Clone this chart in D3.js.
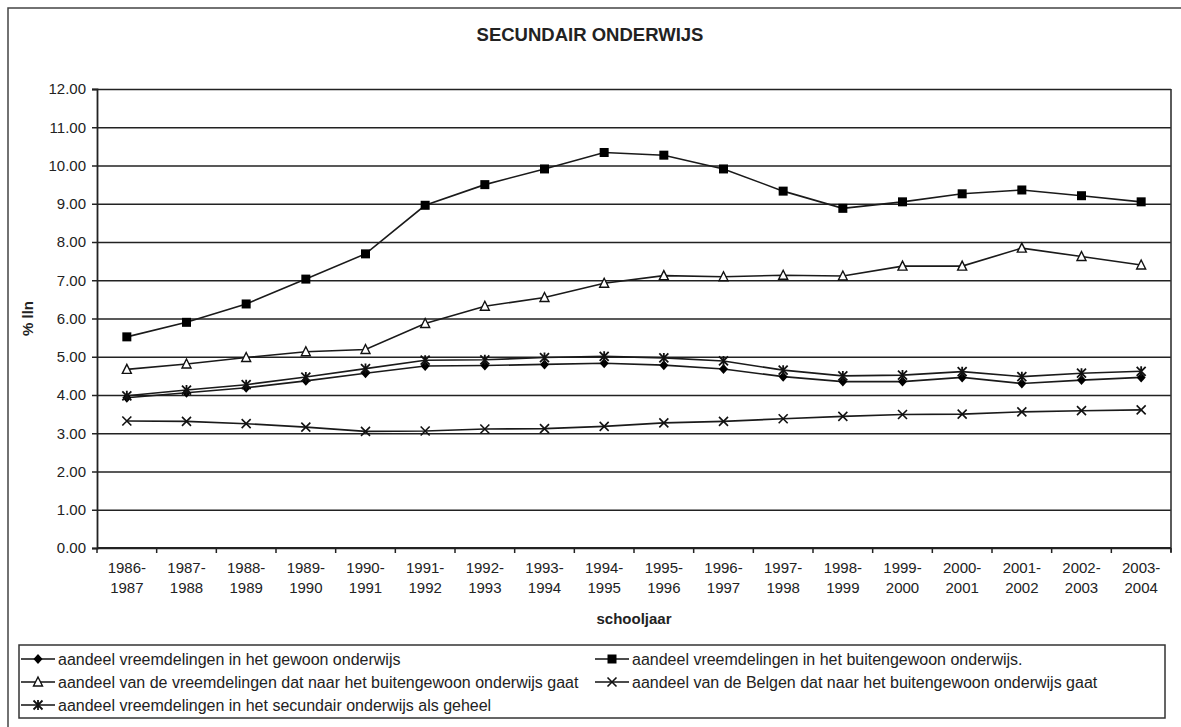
<!DOCTYPE html>
<html><head><meta charset="utf-8">
<script src="https://cdn.jsdelivr.net/npm/d3@7"></script>
<style>
body{margin:0;background:#fff}
text{font-family:"Liberation Sans",Arial,sans-serif;fill:#222}
</style>
</head><body>
<svg id="c" width="1181" height="727"></svg>
<script>
const categories = ["1986-1987","1987-1988","1988-1989","1989-1990","1990-1991","1991-1992","1992-1993","1993-1994","1994-1995","1995-1996","1996-1997","1997-1998","1998-1999","1999-2000","2000-2001","2001-2002","2002-2003","2003-2004"];
const gewoon      = [3.93,4.06,4.19,4.37,4.57,4.76,4.77,4.80,4.83,4.78,4.68,4.48,4.35,4.35,4.46,4.30,4.39,4.46];
const buitengewoon= [5.52,5.90,6.38,7.03,7.69,8.96,9.50,9.91,10.34,10.27,9.91,9.33,8.88,9.05,9.26,9.36,9.21,9.05];
const vreemdNaarBuo=[4.67,4.81,4.98,5.13,5.19,5.87,6.32,6.55,6.92,7.12,7.09,7.13,7.11,7.37,7.37,7.84,7.62,7.40];
const belgenNaarBuo=[3.32,3.31,3.25,3.16,3.05,3.06,3.11,3.12,3.18,3.27,3.31,3.38,3.44,3.49,3.50,3.56,3.59,3.61];
const geheel      = [3.98,4.13,4.27,4.47,4.69,4.91,4.92,4.98,5.01,4.97,4.89,4.65,4.50,4.52,4.61,4.48,4.57,4.62];
const yTicks = [0,1,2,3,4,5,6,7,8,9,10,11,12];

const series = [
  {name:"aandeel vreemdelingen in het gewoon onderwijs", values:gewoon, marker:"diamond", col:0,row:0},
  {name:"aandeel vreemdelingen in het buitengewoon onderwijs.", values:buitengewoon, marker:"square", col:1,row:0},
  {name:"aandeel van de vreemdelingen dat naar het buitengewoon onderwijs gaat", values:vreemdNaarBuo, marker:"triangle", col:0,row:1},
  {name:"aandeel van de Belgen dat naar het buitengewoon onderwijs gaat", values:belgenNaarBuo, marker:"x", col:1,row:1},
  {name:"aandeel vreemdelingen in het secundair onderwijs als geheel", values:geheel, marker:"star", col:0,row:2}
];

const svg = d3.select("#c");
const W=1181,H=727;
const L=97,R=1171,T=89,B=548;
const x = d3.scaleBand().domain(categories).range([L,R]).padding(0);
const y = d3.scaleLinear().domain([0,12]).range([B,T]);
const ink="#222";
const tickFont="15px", legFont="16px";

svg.append("rect").attr("x",8).attr("y",8).attr("width",W).attr("height",H)
  .attr("fill","none").attr("stroke","#444").attr("stroke-width",1.5);

svg.append("text").attr("x",590).attr("y",41).attr("text-anchor","middle")
  .style("font-size","18.5px").style("font-weight","bold").text("SECUNDAIR ONDERWIJS");

svg.append("g").attr("transform",`translate(${L},0)`)
  .call(d3.axisLeft(y).tickValues(yTicks).tickSize(-(R-L)).tickFormat(""))
  .call(g=>g.select(".domain").remove())
  .call(g=>g.selectAll("line").attr("stroke",ink).attr("stroke-width",1.6));

svg.append("line").attr("x1",R).attr("x2",R).attr("y1",T).attr("y2",B+4)
  .attr("stroke","#333").attr("stroke-width",1.6);

const ya = svg.append("g").attr("transform",`translate(${L},0)`)
  .call(d3.axisLeft(y).tickValues(yTicks).tickSize(5).tickPadding(6).tickFormat(d3.format(".2f")));
ya.select(".domain").attr("stroke",ink).attr("stroke-width",1.8);
ya.selectAll("line").attr("stroke",ink).attr("stroke-width",1.5);
ya.selectAll("text").style("font-size",tickFont).attr("fill","#222").style("font-family","'Liberation Sans',Arial,sans-serif");

svg.append("line").attr("x1",L).attr("x2",R).attr("y1",B).attr("y2",B).attr("stroke",ink).attr("stroke-width",1.8);
const bounds = d3.range(categories.length+1).map(i=>L+i*x.step());
svg.append("g").selectAll("line").data(bounds).join("line")
  .attr("x1",d=>d).attr("x2",d=>d).attr("y1",B).attr("y2",B+5).attr("stroke",ink).attr("stroke-width",1.5);
const xl = svg.append("g").selectAll("text").data(categories).join("text")
  .attr("x",d=>x(d)+x.bandwidth()/2).attr("y",B+25).attr("text-anchor","middle").style("font-size",tickFont);
xl.append("tspan").attr("x",d=>x(d)+x.bandwidth()/2).text(d=>d.split("-")[0]+"-");
xl.append("tspan").attr("x",d=>x(d)+x.bandwidth()/2).attr("dy",20).text(d=>d.split("-")[1]);

svg.append("text").attr("x",(L+R)/2).attr("y",624).attr("text-anchor","middle")
  .style("font-size",tickFont).style("font-weight","bold").text("schooljaar");
svg.append("text").attr("transform",`translate(33,${(T+B)/2}) rotate(-90)`).attr("text-anchor","middle")
  .style("font-size",tickFont).style("font-weight","bold").text("% lln");

function drawMarker(g,type,cx,cy){
  if(type==="square"){
    g.append("rect").attr("x",cx-4.5).attr("y",cy-4.5).attr("width",9).attr("height",9).attr("fill","#000");
  } else if(type==="triangle"){
    g.append("path").attr("d",`M${cx},${cy-5}L${cx+4.5},${cy+4}L${cx-4.5},${cy+4}Z`)
      .attr("fill","#fff").attr("stroke","#111").attr("stroke-width",1.4);
  } else if(type==="diamond"){
    g.append("path").attr("d",`M${cx},${cy-5}L${cx+4.5},${cy}L${cx},${cy+5}L${cx-4.5},${cy}Z`).attr("fill","#000");
  } else if(type==="x"){
    g.append("path").attr("d",`M${cx-4.5},${cy-4.5}L${cx+4.5},${cy+4.5}M${cx+4.5},${cy-4.5}L${cx-4.5},${cy+4.5}`)
      .attr("stroke","#111").attr("stroke-width",1.6).attr("fill","none");
  } else if(type==="star"){
    g.append("path").attr("d",`M${cx-4.5},${cy-4.5}L${cx+4.5},${cy+4.5}M${cx+4.5},${cy-4.5}L${cx-4.5},${cy+4.5}M${cx},${cy-5}L${cx},${cy+5}`)
      .attr("stroke","#111").attr("stroke-width",1.8).attr("fill","none");
  }
}

const line = d3.line().x((d,i)=>x(categories[i])+x.bandwidth()/2).y(d=>y(d));
const plotG = svg.append("g");
series.forEach(s=>{
  plotG.append("path").attr("d",line(s.values)).attr("fill","none").attr("stroke","#1a1a1a").attr("stroke-width",1.6);
});
series.forEach(s=>{
  const mg = plotG.append("g");
  s.values.forEach((v,i)=>drawMarker(mg,s.marker,x(categories[i])+x.bandwidth()/2,y(v)));
});

svg.append("rect").attr("x",19).attr("y",645).attr("width",1146).attr("height",73)
  .attr("fill","#fff").attr("stroke","#333").attr("stroke-width",1.5);
const colX=[21,595], rowY=[659,682,705];
series.forEach(s=>{
  const lx=colX[s.col], ly=rowY[s.row];
  const g=svg.append("g");
  g.append("line").attr("x1",lx).attr("x2",lx+34).attr("y1",ly).attr("y2",ly).attr("stroke","#111").attr("stroke-width",1.6);
  drawMarker(g,s.marker,lx+17,ly);
  g.append("text").attr("x",lx+37).attr("y",ly+5.5).style("font-size",legFont).text(s.name);
});
</script>
</body></html>
